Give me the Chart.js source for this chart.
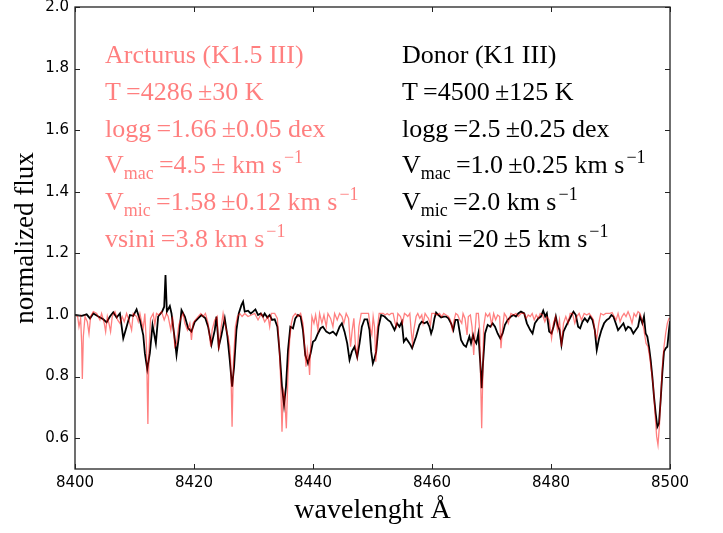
<!DOCTYPE html>
<html>
<head>
<meta charset="utf-8">
<script src="https://cdn.jsdelivr.net/npm/chart.js@4"></script>
<style>
  body { margin: 0; background: #fff; }
</style>
</head>
<body>
<canvas id="spectrum" width="723" height="533"></canvas>
<script>
// axis ticks
var xTicks = [8400, 8420, 8440, 8460, 8480, 8500];
var yTicks = [0.6, 0.8, 1.0, 1.2, 1.4, 1.6, 1.8, 2.0];

// Arcturus atlas spectrum (wavelength in A, normalized flux)
var arcWave = [
  8400.0, 8400.45, 8400.67, 8400.95, 8401.12, 8401.23, 8401.4, 8401.68, 8402.07, 8402.35,
  8402.63, 8403.08, 8403.64, 8404.19, 8404.47, 8404.92, 8405.15, 8405.43, 8405.76, 8405.98,
  8406.26, 8406.71, 8407.16, 8407.55, 8407.94, 8408.28, 8408.67, 8409.06, 8409.51, 8409.79,
  8410.35, 8410.63, 8410.91, 8411.19, 8411.47, 8411.74, 8412.02, 8412.25, 8412.42, 8412.7,
  8413.14, 8413.42, 8413.7, 8414.09, 8414.54, 8414.99, 8415.38, 8415.66, 8416.11, 8416.39,
  8416.78, 8417.06, 8417.45, 8417.79, 8418.18, 8418.46, 8418.9, 8419.3, 8419.57, 8419.85,
  8420.25, 8420.69, 8421.14, 8421.53, 8421.92, 8422.37, 8422.82, 8423.04, 8423.49, 8423.88,
  8424.16, 8424.5, 8424.89, 8425.17, 8425.45, 8425.73, 8426.01, 8426.18, 8426.4, 8426.62,
  8426.96, 8427.3, 8427.69, 8428.08, 8428.53, 8429.08, 8429.64, 8430.2, 8430.76, 8431.32,
  8431.88, 8432.44, 8432.72, 8433.0, 8433.56, 8434.01, 8434.29, 8434.57, 8434.79, 8435.01,
  8435.24, 8435.52, 8435.8, 8436.08, 8436.36, 8436.64, 8437.03, 8437.47, 8437.92, 8438.31,
  8438.59, 8438.82, 8439.04, 8439.26, 8439.43, 8439.6, 8439.82, 8440.16, 8440.44, 8440.83,
  8441.11, 8441.5, 8441.84, 8442.23, 8442.51, 8442.96, 8443.35, 8443.63, 8444.07, 8444.47,
  8444.86, 8445.19, 8445.58, 8445.98, 8446.31, 8446.59, 8446.87, 8447.15, 8447.43, 8447.71,
  8448.1, 8448.55, 8448.94, 8449.33, 8449.67, 8449.89, 8450.11, 8450.34, 8450.56, 8450.79,
  8451.12, 8451.46, 8451.79, 8452.13, 8452.47, 8452.8, 8453.14, 8453.47, 8453.81, 8454.03,
  8454.26, 8454.7, 8455.04, 8455.37, 8455.71, 8455.93, 8456.27, 8456.49, 8456.72, 8456.94,
  8457.33, 8457.61, 8457.95, 8458.28, 8458.5, 8458.84, 8459.18, 8459.4, 8459.74, 8459.96,
  8460.41, 8460.85, 8461.25, 8461.64, 8461.97, 8462.36, 8462.76, 8463.09, 8463.43, 8463.65,
  8463.99, 8464.32, 8464.66, 8465.0, 8465.22, 8465.55, 8465.89, 8466.11, 8466.45, 8466.73,
  8467.01, 8467.23, 8467.45, 8467.79, 8468.01, 8468.18, 8468.35, 8468.52, 8468.68, 8469.02,
  8469.36, 8469.69, 8470.03, 8470.36, 8470.7, 8471.03, 8471.37, 8471.59, 8471.82, 8472.15,
  8472.49, 8472.82, 8473.27, 8473.72, 8474.11, 8474.5, 8474.95, 8475.5, 8475.84, 8476.17,
  8476.51, 8476.84, 8477.18, 8477.51, 8477.85, 8478.18, 8478.58, 8478.97, 8479.3, 8479.69,
  8480.09, 8480.42, 8480.76, 8481.09, 8481.43, 8481.76, 8482.1, 8482.49, 8482.88, 8483.22,
  8483.61, 8484.0, 8484.34, 8484.73, 8485.12, 8485.57, 8486.01, 8486.41, 8486.8, 8487.13,
  8487.41, 8487.69, 8488.03, 8488.36, 8488.81, 8489.2, 8489.59, 8489.93, 8490.27, 8490.6,
  8490.94, 8491.27, 8491.61, 8491.94, 8492.28, 8492.61, 8492.95, 8493.29, 8493.62, 8493.96,
  8494.29, 8494.63, 8494.96, 8495.3, 8495.63, 8495.97, 8496.3, 8496.58, 8496.86, 8497.2,
  8497.48, 8497.76, 8497.98, 8498.21, 8498.43, 8498.71, 8498.99, 8499.27, 8499.55, 8499.83,
  8500.0
];
var arcFlux = [
  1.0, 0.995, 0.962, 0.989, 0.908, 0.792, 0.93, 0.995, 0.978, 0.94,
  0.995, 1.011, 1.005, 0.984, 1.005, 0.973, 0.946, 0.995, 0.968, 0.946,
  0.995, 1.011, 0.984, 0.973, 0.995, 0.978, 1.005, 0.984, 0.951, 1.005,
  0.995, 0.978, 1.005, 0.978, 0.957, 1.005, 0.897, 0.646, 0.876, 0.989,
  1.005, 0.968, 1.005, 1.0, 1.011, 0.984, 1.005, 0.995, 0.951, 0.995,
  0.897, 0.908, 0.968, 0.989, 1.005, 0.973, 0.951, 0.973, 0.919, 0.973,
  0.984, 0.995, 1.005, 0.995, 1.005, 0.973, 0.897, 0.951, 0.984, 0.995,
  0.886, 0.951, 1.005, 0.973, 0.951, 0.93, 0.897, 0.843, 0.637, 0.843,
  0.962, 0.995, 1.005, 0.995, 1.005, 0.995, 1.0, 1.005, 0.984, 1.005,
  0.978, 0.995, 0.962, 1.005, 1.005, 0.989, 0.908, 0.789, 0.621, 0.756,
  0.735, 0.632, 0.811, 0.919, 0.973, 0.995, 1.005, 0.995, 1.005, 0.973,
  0.897, 0.832, 0.886, 0.854, 0.805, 0.897, 0.995, 0.973, 1.0, 0.951,
  1.005, 0.973, 1.0, 0.962, 1.005, 0.989, 0.962, 1.005, 0.984, 1.005,
  0.995, 0.973, 1.005, 0.989, 0.897, 0.951, 0.989, 0.897, 0.865, 0.962,
  1.005, 1.005, 1.005, 1.005, 0.951, 0.935, 0.995, 0.962, 0.848, 0.951,
  1.005, 1.005, 1.005, 1.0, 1.005, 1.0, 1.005, 1.005, 0.973, 0.962,
  1.005, 0.995, 0.973, 1.005, 1.0, 0.995, 1.005, 0.951, 0.908, 0.951,
  0.995, 1.005, 0.989, 1.0, 0.973, 1.005, 0.995, 0.989, 0.968, 1.005,
  1.005, 1.0, 1.005, 0.995, 1.005, 1.0, 0.995, 0.984, 0.951, 0.978,
  1.005, 1.0, 0.984, 0.973, 1.005, 0.989, 0.935, 0.995, 1.0, 0.962,
  0.87, 0.946, 1.005, 1.005, 0.951, 0.789, 0.632, 0.789, 0.962, 1.005,
  0.995, 1.005, 0.968, 1.005, 0.984, 1.0, 0.995, 0.892, 0.951, 1.005,
  0.995, 0.973, 1.005, 1.0, 1.005, 0.995, 1.005, 1.005, 0.989, 1.0,
  0.995, 1.005, 0.984, 1.0, 0.989, 1.005, 1.0, 0.978, 0.995, 0.984,
  0.924, 0.973, 0.995, 0.951, 0.984, 0.897, 0.973, 0.995, 0.973, 1.005,
  1.005, 0.973, 0.995, 1.005, 0.984, 1.005, 1.0, 1.005, 0.995, 0.984,
  0.94, 0.924, 0.973, 1.005, 1.0, 1.005, 1.005, 1.005, 1.008, 0.995,
  0.984, 1.005, 0.978, 0.995, 1.005, 0.995, 1.011, 0.995, 0.973, 1.005,
  0.995, 1.011, 1.005, 0.984, 0.951, 0.908, 0.897, 0.865, 0.821, 0.767,
  0.681, 0.605, 0.578, 0.637, 0.724, 0.832, 0.897, 0.94, 0.973, 0.989,
  0.989
];

// donor spectrum
var donorWave = [
  8400.0, 8401.12, 8401.96, 8402.52, 8403.08, 8403.92, 8404.75, 8405.31, 8405.87, 8406.43,
  8406.99, 8407.55, 8408.11, 8408.67, 8409.23, 8409.79, 8410.35, 8410.91, 8411.47, 8411.74,
  8412.14, 8412.58, 8413.03, 8413.59, 8413.98, 8414.65, 8414.99, 8415.21, 8415.44, 8415.94,
  8416.22, 8416.78, 8417.06, 8417.45, 8417.9, 8418.46, 8419.02, 8419.57, 8420.13, 8420.69,
  8421.25, 8421.92, 8422.37, 8422.93, 8423.49, 8423.77, 8424.16, 8424.61, 8425.17, 8425.62,
  8426.01, 8426.4, 8426.74, 8427.13, 8427.52, 8427.97, 8428.25, 8428.53, 8429.08, 8429.53,
  8429.92, 8430.32, 8430.76, 8431.21, 8431.6, 8431.88, 8432.33, 8432.72, 8433.11, 8433.56,
  8434.01, 8434.4, 8434.79, 8435.13, 8435.46, 8435.8, 8436.19, 8436.64, 8437.03, 8437.47,
  8437.92, 8438.31, 8438.7, 8439.15, 8439.6, 8439.99, 8440.38, 8440.83, 8441.28, 8441.67,
  8442.23, 8442.79, 8443.35, 8443.91, 8444.47, 8444.86, 8445.3, 8445.75, 8446.14, 8446.53,
  8446.98, 8447.43, 8447.82, 8448.21, 8448.66, 8449.11, 8449.5, 8449.78, 8450.06, 8450.34,
  8450.62, 8451.01, 8451.46, 8452.02, 8452.58, 8453.02, 8453.42, 8453.7, 8454.14, 8454.53,
  8454.93, 8455.26, 8455.65, 8456.04, 8456.38, 8456.66, 8456.94, 8457.33, 8457.89, 8458.28,
  8458.73, 8459.18, 8459.57, 8459.85, 8460.13, 8460.41, 8460.69, 8461.08, 8461.53, 8461.97,
  8462.36, 8462.76, 8463.2, 8463.59, 8463.93, 8464.32, 8464.6, 8464.88, 8465.33, 8465.72,
  8466.0, 8466.28, 8466.56, 8466.9, 8467.12, 8467.45, 8467.79, 8468.12, 8468.35, 8468.57,
  8468.91, 8469.36, 8469.8, 8470.19, 8470.59, 8471.03, 8471.48, 8471.87, 8472.26, 8472.71,
  8473.27, 8473.72, 8474.11, 8474.5, 8474.95, 8475.5, 8475.95, 8476.51, 8476.9, 8477.29,
  8477.85, 8478.3, 8478.69, 8479.02, 8479.3, 8479.69, 8480.09, 8480.42, 8480.81, 8481.09,
  8481.43, 8481.76, 8482.1, 8482.49, 8482.88, 8483.33, 8483.78, 8484.17, 8484.56, 8484.9,
  8485.29, 8485.68, 8486.13, 8486.57, 8486.97, 8487.36, 8487.69, 8488.08, 8488.48, 8488.92,
  8489.37, 8489.76, 8490.15, 8490.49, 8490.88, 8491.27, 8491.72, 8492.17, 8492.56, 8492.95,
  8493.4, 8493.84, 8494.24, 8494.63, 8494.96, 8495.35, 8495.63, 8495.91, 8496.19, 8496.47,
  8496.75, 8497.03, 8497.31, 8497.59, 8497.87, 8498.15, 8498.43, 8498.71, 8498.99, 8499.27,
  8499.55, 8499.83, 8500.0
];
var donorFlux = [
  1.0, 0.997, 1.002, 0.989, 1.005, 0.995, 0.986, 0.976, 0.995, 1.009,
  0.992, 1.005, 0.924, 0.962, 1.0, 0.997, 1.018, 0.984, 0.935, 0.876,
  0.824, 0.876, 0.968, 0.908, 0.995, 1.011, 1.027, 1.13, 1.011, 1.029,
  1.005, 0.919, 0.87, 0.93, 1.016, 0.995, 0.957, 0.946, 0.978, 0.989,
  1.0, 0.989, 0.962, 0.903, 0.951, 0.995, 0.897, 0.935, 0.989, 0.93,
  0.854, 0.767, 0.832, 0.951, 1.005, 1.032, 1.043, 1.011, 1.014, 1.005,
  1.011, 1.018, 1.0, 1.005, 0.995, 1.005, 0.992, 1.0, 0.984, 0.986,
  0.962, 0.876, 0.767, 0.708, 0.767, 0.886, 0.962, 0.957, 0.989, 1.0,
  0.995, 0.951, 0.87, 0.843, 0.876, 0.913, 0.919, 0.94, 0.957, 0.962,
  0.946, 0.94, 0.946, 0.935, 0.962, 0.973, 0.946, 0.908, 0.854, 0.881,
  0.897, 0.863, 0.908, 0.962, 0.986, 0.986, 0.951, 0.881, 0.843, 0.859,
  0.881, 0.962, 1.0, 0.995, 0.984, 0.978, 0.962, 0.951, 0.973, 0.962,
  0.978, 0.913, 0.924, 0.913, 0.903, 0.892, 0.908, 0.93, 0.968, 0.978,
  0.973, 0.978, 0.962, 0.94, 0.957, 0.989, 1.008, 1.0, 0.992, 0.995,
  0.995, 0.989, 0.973, 0.951, 0.984, 0.984, 0.951, 0.919, 0.903, 0.897,
  0.913, 0.93, 0.908, 0.935, 0.919, 0.908, 0.94, 0.843, 0.762, 0.843,
  0.94, 0.968, 0.962, 0.973, 0.962, 0.94, 0.924, 0.94, 0.968, 0.984,
  0.995, 1.0, 0.995, 1.005, 1.011, 1.005, 0.973, 0.951, 0.94, 0.973,
  0.989, 0.995, 1.014, 0.995, 1.005, 0.946, 0.94, 0.962, 0.995, 0.968,
  0.951, 0.903, 0.946, 0.962, 0.978, 0.995, 1.011, 1.0, 0.962, 0.957,
  0.978, 0.989, 0.978, 0.995, 0.984, 0.951, 0.886, 0.924, 0.951, 0.973,
  0.984, 0.989, 1.0, 0.995, 0.973, 0.951, 0.962, 0.973, 0.951, 0.962,
  0.957, 0.94, 0.951, 0.962, 0.995, 0.973, 0.995, 0.94, 0.93, 0.897,
  0.854, 0.8, 0.735, 0.681, 0.637, 0.648, 0.724, 0.811, 0.881, 0.892,
  0.897, 0.951, 0.98
];

// stellar parameters printed inside the plot
var arcturusLabel = [
  'Arcturus (K1.5 III)',
  'T\u2009=4286\u2009±30 K',
  'logg\u2009=1.66\u2009±0.05 dex',
  'V_{mac}\u2009=4.5\u2009± km s^{\u22121}',
  'V_{mic}\u2009=1.58\u2009±0.12 km s^{\u22121}',
  'vsini\u2009=3.8 km s^{\u22121}'
];
var donorLabel = [
  'Donor (K1 III)',
  'T\u2009=4500\u2009±125 K',
  'logg\u2009=2.5\u2009±0.25 dex',
  'V_{mac}\u2009=1.0\u2009±0.25 km s^{\u22121}',
  'V_{mic}\u2009=2.0 km s^{\u22121}',
  'vsini\u2009=20\u2009±5 km s^{\u22121}'
];

var red = 'rgba(255, 0, 0, 0.5)';
var serif = '"Liberation Serif", "Times New Roman", serif';

function toPoints(xs, ys) {
  var pts = [];
  for (var i = 0; i < xs.length; i++) {
    pts.push({ x: xs[i], y: ys[i] });
  }
  return pts;
}

// split "V_{mac}" / "s^{-1}" into plain, sub and sup pieces
function parseLabel(str) {
  var parts = [];
  var re = /([_^])\{([^}]*)\}/g;
  var last = 0, m;
  while ((m = re.exec(str)) !== null) {
    if (m.index > last) parts.push({ t: str.slice(last, m.index), k: 'n' });
    parts.push({ t: m[2], k: m[1] == '_' ? 'sub' : 'sup' });
    last = re.lastIndex;
  }
  if (last < str.length) parts.push({ t: str.slice(last), k: 'n' });
  return parts;
}

function drawLabel(ctx, lines, x, y0, step, color) {
  ctx.save();
  ctx.fillStyle = color;
  ctx.textBaseline = 'alphabetic';
  ctx.textAlign = 'left';
  for (var i = 0; i < lines.length; i++) {
    var parts = parseLabel(lines[i]);
    var cx = x;
    var base = y0 + i * step;
    for (var j = 0; j < parts.length; j++) {
      var p = parts[j];
      var dy = 0;
      if (p.k == 'n') {
        ctx.font = '26px ' + serif;
      } else {
        ctx.font = '18px ' + serif;
        dy = p.k == 'sub' ? 6 : -10;
        if (p.k == 'sup') cx += 2;
      }
      ctx.fillText(p.t, cx, base + dy);
      cx += ctx.measureText(p.t).width;
    }
  }
  ctx.restore();
}

// frame on all four sides with inward tick marks, plus the text blocks
var framePlugin = {
  id: 'frame',
  afterDraw: function (chart) {
    var ctx = chart.ctx;
    var a = chart.chartArea;
    var xs = chart.scales.x, ys = chart.scales.y;
    ctx.save();
    ctx.strokeStyle = '#222';
    ctx.lineWidth = 1.3;
    ctx.strokeRect(a.left, a.top, a.right - a.left, a.bottom - a.top);
    ctx.lineWidth = 1;
    ctx.beginPath();
    xTicks.forEach(function (v) {
      var px = Math.round(xs.getPixelForValue(v)) + 0.5;
      ctx.moveTo(px, a.bottom); ctx.lineTo(px, a.bottom - 5);
      ctx.moveTo(px, a.top); ctx.lineTo(px, a.top + 5);
    });
    yTicks.forEach(function (v) {
      var py = Math.round(ys.getPixelForValue(v)) + 0.5;
      ctx.moveTo(a.left, py); ctx.lineTo(a.left + 5, py);
      ctx.moveTo(a.right, py); ctx.lineTo(a.right - 5, py);
    });
    ctx.stroke();
    ctx.restore();

    drawLabel(ctx, arcturusLabel, 105, 63, 36.8, red);
    drawLabel(ctx, donorLabel, 402, 63, 36.8, '#000');
  }
};

new Chart(document.getElementById('spectrum'), {
  type: 'line',
  data: {
    datasets: [
      {
        label: 'Arcturus',
        data: toPoints(arcWave, arcFlux),
        borderColor: red,
        borderWidth: 1.3,
        pointRadius: 0,
        tension: 0,
        fill: false
      },
      {
        label: 'Donor',
        data: toPoints(donorWave, donorFlux),
        borderColor: '#000',
        borderWidth: 1.8,
        pointRadius: 0,
        tension: 0,
        fill: false
      }
    ]
  },
  options: {
    responsive: false,
    animation: false,
    layout: { padding: { top: 7, right: 53, left: 0, bottom: 0 } },
    plugins: {
      legend: { display: false },
      tooltip: { enabled: false }
    },
    scales: {
      x: {
        type: 'linear',
        min: 8400,
        max: 8500,
        afterBuildTicks: function (s) { s.ticks = xTicks.map(function (v) { return { value: v }; }); },
        afterFit: function (s) { s.height = 64; s.paddingLeft = 0; s.paddingRight = 0; },
        grid: { display: false, drawTicks: false },
        border: { display: false },
        ticks: {
          color: '#000',
          padding: 5,
          maxRotation: 0,
          font: { family: '"DejaVu Sans"', size: 15 },
          callback: function (v) { return v; }
        },
        title: {
          display: true,
          text: 'wavelenght Å',
          color: '#000',
          font: { family: serif, size: 28 },
          padding: { top: 0, bottom: 6 }
        }
      },
      y: {
        min: 0.5,
        max: 2.0,
        afterBuildTicks: function (s) { s.ticks = yTicks.map(function (v) { return { value: v }; }); },
        afterFit: function (s) { s.width = 75; s.paddingTop = 0; s.paddingBottom = 0; },
        grid: { display: false, drawTicks: false },
        border: { display: false },
        ticks: {
          color: '#000',
          padding: 6,
          font: { family: '"DejaVu Sans"', size: 15 },
          callback: function (v) { return v.toFixed(1); }
        },
        title: {
          display: true,
          text: 'normalized flux',
          color: '#000',
          font: { family: serif, size: 27 },
          padding: { top: 10, bottom: 0 }
        }
      }
    }
  },
  plugins: [framePlugin]
});
</script>
</body>
</html>
